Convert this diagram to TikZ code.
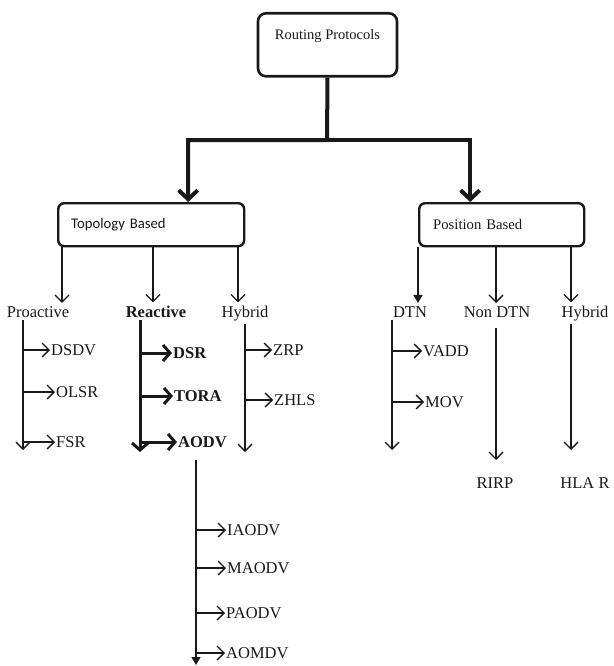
\documentclass[tikz,border=0pt]{standalone}
\usepackage{fontspec}
\setmainfont{Liberation Serif}
\newfontfamily\boxfont{Carlito}
\usepackage{tikz}
\usetikzlibrary{arrows.meta,positioning}
\definecolor{rpInk}{RGB}{25,25,25}

\begin{document}
\begin{tikzpicture}[
    x=1pt, y=-1pt,
    every node/.style={font=\fontsize{16.5}{19}\selectfont, inner sep=1pt, text=rpInk},
    rootbox/.style={draw=rpInk, line width=2.6pt, rounded corners=8pt, anchor=north,
      minimum width=139pt, inner ysep=14pt, text height=12pt, text depth=23pt,
      font=\fontsize{14.5}{17}\selectfont},
    groupbox/.style={draw=rpInk, line width=2.4pt, rounded corners=6pt, anchor=north west,
      minimum height=43pt, align=left, font=\fontsize{14.7}{17}\selectfont},
    cat/.style={anchor=base, inner ysep=3pt},
    leaf/.style={anchor=west},
    lnk/.style={draw=rpInk, line width=1.3pt, -{Straight Barb[length=7pt,width=14pt]}},
    boldlnk/.style={draw=rpInk, line width=3pt, -{Straight Barb[length=7pt,width=16pt]}},
    mainlnk/.style={draw=rpInk, line width=4pt, -{Straight Barb[length=9pt,width=19pt]}},
    filllnk/.style={draw=rpInk, line width=1.3pt, -{Triangle[length=8pt,width=9pt]}}
]
\useasboundingbox (0,0) rectangle (613,666);

% boxes
\node[rootbox] (root) at (327.5,12) {Routing Protocols};
\node[groupbox, text width=160pt, inner xsep=13pt] (topo) at (57,202) {\boxfont Topology Based};
\node[groupbox, text width=137pt, inner xsep=14pt] (pos) at (418,202) {Position Based};

\coordinate (split) at (327,140);
\draw[mainlnk] (root.south) -- (split) -| ([xshift=37pt]topo.north);
\draw[mainlnk] (split) -| ([xshift=-31.5pt]pos.north);

% categories
\node[cat] (pro) at (38,317) {Proactive};
\node[cat] (rea) at (156,317) {\textbf{Reactive}};
\node[cat] (thyb) at (245,317) {Hybrid};
\node[cat] (dtn) at (410,317) {DTN};
\node[cat] (ndtn) at (497,317) {Non DTN};
\node[cat] (phyb) at (585,317) {Hybrid};

\coordinate (xpro) at (62,0);
\coordinate (xrea) at (153,0);
\coordinate (xthyb) at (238,0);
\coordinate (xdtn) at (418,0);
\coordinate (xndtn) at (496,0);
\coordinate (xphyb) at (571,0);
\foreach \a/\b in {topo/pro,topo/rea,topo/thyb,pos/ndtn,pos/phyb}
  \draw[lnk] (\a.south -| x\b) -- (\b.north -| x\b);
\draw[filllnk] (pos.south -| xdtn) -- (dtn.north -| xdtn);

% stems
\coordinate (epro) at (23,450);
\coordinate (erea) at (140,452);
\coordinate (ethyb) at (245,452);
\coordinate (edtn) at (392,450);
\coordinate (endtn) at (496,460);
\coordinate (ephyb) at (571,450);
\draw[lnk] (pro.south -| epro) -- (epro);
\draw[boldlnk] (rea.south -| erea) -- (erea);
\draw[lnk] (thyb.south -| ethyb) -- (ethyb);
\draw[lnk] (dtn.south -| edtn) -- (edtn);
\draw[lnk] ([yshift=-8pt]ndtn.south -| endtn) -- (endtn);
\draw[lnk] (phyb.south -| ephyb) -- (ephyb);

\node[cat] (rirp) at (495,488) {RIRP};
\node[cat] (hlar) at (585,488) {HLA R};

% leaves
\foreach \y/\n/\t/\x in {350/dsdv/DSDV/50, 392/olsr/OLSR/55, 442/fsr/FSR/55} {
  \node[leaf] (\n) at (\x,\y) {\t};
  \draw[lnk] (\n.west -| epro) -- (\n.west);
}
\foreach \y/\n/\t/\x in {353/dsr/DSR/172, 396/tora/TORA/173, 442/aodv/AODV/177} {
  \node[leaf] (\n) at (\x,\y) {\textbf{\t}};
  \draw[boldlnk] (\n.west -| erea) -- (\n.west);
}
\foreach \y/\n/\t/\x in {350/zrp/ZRP/272, 400/zhls/ZHLS/273} {
  \node[leaf] (\n) at (\x,\y) {\t};
  \draw[lnk] (\n.west -| ethyb) -- (\n.west);
}
\foreach \y/\n/\t/\x in {351/vadd/VADD/422, 402/mov/MOV/424} {
  \node[leaf] (\n) at (\x,\y) {\t};
  \draw[lnk] (\n.west -| edtn) -- (\n.west);
}

% AODV variants
\coordinate (eaodv) at (196,665);
\draw[filllnk] ([yshift=-11pt]aodv.south -| eaodv) -- (eaodv);
\foreach \y/\n/\t/\x in {530/iaodv/IAODV/226, 568/maodv/MAODV/226, 613/paodv/PAODV/225, 653/aomdv/AOMDV/225} {
  \node[leaf] (\n) at (\x,\y) {\t};
  \draw[lnk] (\n.west -| eaodv) -- (\n.west);
}
\end{tikzpicture}
\end{document}
